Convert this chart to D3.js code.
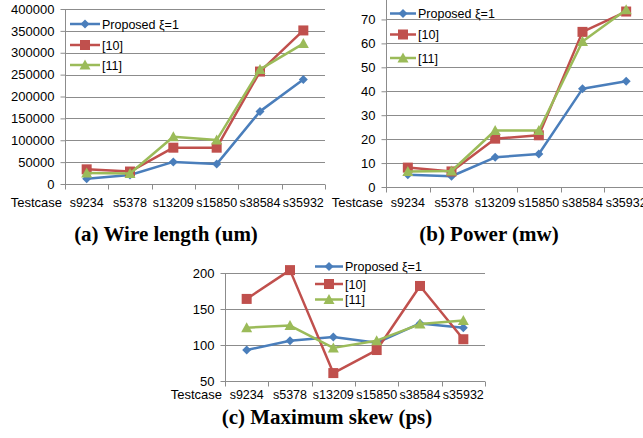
<!DOCTYPE html>
<html>
<head>
<meta charset="utf-8">
<script src="https://cdn.jsdelivr.net/npm/d3@7"></script>
<style>
  body { margin: 0; background: #fff; }
  svg { display: block; }
  .tick-label { font-family: "Liberation Sans", Arial, sans-serif; font-size: 13px; fill: #000; }
  .cat-label { font-family: "Liberation Sans", Arial, sans-serif; font-size: 12.5px; fill: #000; }
  .legend-label { font-family: "Liberation Sans", Arial, sans-serif; font-size: 12.5px; fill: #000; }
  .caption { font-family: "Liberation Serif", "Times New Roman", serif; font-size: 21px; font-weight: bold; fill: #000; }
</style>
</head>
<body>
<svg id="chart" width="643" height="438"></svg>
<script>
// ---- data ----
var testcases = ["s9234", "s5378", "s13209", "s15850", "s38584", "s35932"];
var seriesNames = ["Proposed \u03be=1", "[10]", "[11]"];

var wireProposed = [12000, 20500, 50500, 45500, 166000, 239000];
var wireRef10    = [33500, 28500, 83000, 83000, 257000, 351000];
var wireRef11    = [25000, 24000, 108000, 100500, 262000, 321000];
var wireTicks    = [0, 50000, 100000, 150000, 200000, 250000, 300000, 350000, 400000];

var powerProposed = [5.1, 4.5, 12.4, 13.8, 41.0, 44.2];
var powerRef10    = [8.1, 6.5, 20.2, 21.6, 64.8, 73.3];
var powerRef11    = [6.5, 6.7, 23.6, 23.6, 60.8, 74.0];
var powerTicks    = [0, 10, 20, 30, 40, 50, 60, 70];

var skewProposed = [93, 106, 111, 103, 130, 124];
var skewRef10    = [164, 204, 61, 93, 182, 108];
var skewRef11    = [124, 127, 96, 106, 129, 134];
var skewTicks    = [50, 100, 150, 200];

var COLORS = ["#4a7ebb", "#c0504d", "#9bbb59"];
var SHAPES = ["diamond", "square", "triangle"];

var svg = d3.select("#chart");

function marker(g, shape, color, x, y) {
  if (shape === "diamond") {
    g.append("path")
      .attr("d", "M" + x + "," + (y - 4.5) + "L" + (x + 4.5) + "," + y + "L" + x + "," + (y + 4.5) + "L" + (x - 4.5) + "," + y + "Z")
      .attr("fill", color);
  } else if (shape === "square") {
    g.append("rect")
      .attr("x", x - 5).attr("y", y - 5).attr("width", 10).attr("height", 10)
      .attr("fill", color);
  } else {
    g.append("path")
      .attr("d", "M" + x + "," + (y - 5.5) + "L" + (x + 5.5) + "," + (y + 4.5) + "L" + (x - 5.5) + "," + (y + 4.5) + "Z")
      .attr("fill", color);
  }
}

function drawPanel(cfg) {
  var g = svg.append("g");

  var x = d3.scaleBand().domain(testcases).range([cfg.x0, cfg.x1]).paddingInner(0).paddingOuter(0);
  var y = d3.scaleLinear().domain(cfg.domain).range([cfg.yBottom, cfg.yTop]);
  var cx = function(c) { return x(c) + x.bandwidth() / 2; };

  // gridlines
  g.selectAll(".grid")
    .data(cfg.ticks.filter(function(t) { return t !== cfg.domain[0]; }))
    .enter().append("line")
    .attr("x1", cfg.x0).attr("x2", cfg.x1)
    .attr("y1", function(d) { return Math.round(y(d)) + 0.5; })
    .attr("y2", function(d) { return Math.round(y(d)) + 0.5; })
    .attr("stroke", "#8c8c8c").attr("stroke-width", 1);

  // y axis
  var yAxis = d3.axisLeft(y).tickValues(cfg.ticks).tickSize(5).tickPadding(6).tickFormat(d3.format("d"));
  var ya = g.append("g").attr("transform", "translate(" + (cfg.x0 + 0.5) + ",0)").call(yAxis);
  ya.select(".domain").attr("stroke", "#8c8c8c").attr("d", "M-0," + y(cfg.domain[0]) + "V" + y(cfg.domain[1]));
  ya.selectAll(".tick line").attr("stroke", "#8c8c8c");
  ya.selectAll(".tick text").attr("class", "tick-label").attr("font-family", null).attr("font-size", null);

  // x axis line + boundary ticks
  var by = Math.round(y(cfg.domain[0])) + 0.5;
  g.append("line").attr("x1", cfg.x0).attr("x2", cfg.x1).attr("y1", by).attr("y2", by)
    .attr("stroke", "#8c8c8c");
  var bounds = d3.range(testcases.length + 1).map(function(i) { return cfg.x0 + i * x.step(); });
  g.selectAll(".xtick").data(bounds).enter().append("line")
    .attr("x1", function(d) { return Math.round(d) + 0.5; })
    .attr("x2", function(d) { return Math.round(d) + 0.5; })
    .attr("y1", by).attr("y2", by + 5)
    .attr("stroke", "#8c8c8c");

  // category labels
  g.selectAll(".cat").data(testcases).enter().append("text")
    .attr("class", "cat-label")
    .attr("x", function(d) { return cx(d); })
    .attr("y", cfg.labelY)
    .attr("text-anchor", "middle")
    .text(function(d) { return d; });
  g.append("text").attr("class", "tick-label")
    .attr("x", cfg.x0 - 3).attr("y", cfg.labelY)
    .attr("text-anchor", "end")
    .text("Testcase");

  // legend (drawn under lines)
  var leg = g.append("g");
  cfg.series.forEach(function(s, i) {
    var ly = cfg.legendRows[i];
    leg.append("line")
      .attr("x1", cfg.legendX).attr("x2", cfg.legendX + cfg.legendLen)
      .attr("y1", ly).attr("y2", ly)
      .attr("stroke", COLORS[i]).attr("stroke-width", 2.5);
    marker(leg, SHAPES[i], COLORS[i], cfg.legendX + cfg.legendLen / 2, ly);
    leg.append("text").attr("class", "legend-label")
      .attr("x", cfg.legendX + cfg.legendLen + 2).attr("y", ly + 4.5)
      .text(cfg.names ? cfg.names[i] : seriesNames[i]);
  });

  // series
  var line = d3.line()
    .x(function(d, i) { return cx(testcases[i]); })
    .y(function(d) { return y(d); });
  cfg.series.forEach(function(s, i) {
    g.append("path").datum(s)
      .attr("d", line)
      .attr("fill", "none")
      .attr("stroke", COLORS[i])
      .attr("stroke-width", 2.5)
      .attr("stroke-linejoin", "round");
    s.forEach(function(v, j) {
      marker(g, SHAPES[i], COLORS[i], cx(testcases[j]), y(v));
    });
  });

  g.append("text").attr("class", "caption")
    .attr("x", cfg.captionX).attr("y", cfg.captionY)
    .attr("text-anchor", "middle")
    .text(cfg.caption);
}

drawPanel({
  x0: 65, x1: 325, yBottom: 184, yTop: 9,
  domain: [0, 400000], ticks: wireTicks,
  series: [wireProposed, wireRef10, wireRef11],
  labelY: 207,
  legendX: 70, legendLen: 30, legendRows: [24, 45, 65],
  caption: "(a) Wire length (um)", captionX: 166, captionY: 241
});

// panel (b) is cropped at the top in the source figure: axis runs to 80 but only 0-70 is labelled
drawPanel({
  x0: 386, x1: 648, yBottom: 187, yTop: -4.5,
  domain: [0, 80], ticks: powerTicks,
  series: [powerProposed, powerRef10, powerRef11],
  labelY: 207,
  legendX: 390, legendLen: 26, legendRows: [13.5, 34.5, 58],
  caption: "(b) Power (mw)", captionX: 489, captionY: 241
});

drawPanel({
  x0: 225, x1: 485, yBottom: 381, yTop: 273,
  domain: [50, 200], ticks: skewTicks,
  series: [skewProposed, skewRef10, skewRef11],
  names: ["Proposed  \u03be=1", "[10]", "[11]"],
  labelY: 398.5,
  legendX: 315, legendLen: 28, legendRows: [266.5, 284, 299.5],
  caption: "(c) Maximum skew (ps)", captionX: 327, captionY: 424
});
</script>
</body>
</html>
